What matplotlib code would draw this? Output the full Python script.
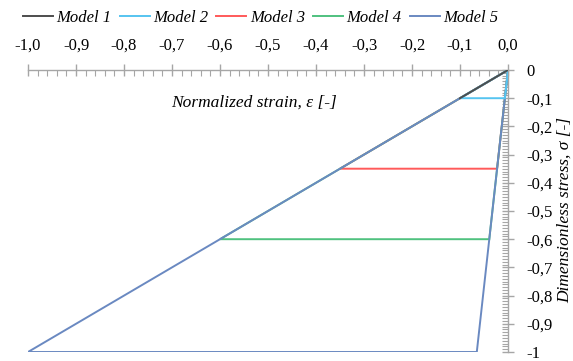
import matplotlib
matplotlib.use("Agg")
import matplotlib.pyplot as plt
from matplotlib.ticker import MultipleLocator, FixedLocator, FixedFormatter

plt.rcParams['font.family'] = 'serif'
plt.rcParams['font.serif'] = ['Liberation Serif', 'DejaVu Serif']

# Peak stress of each model (loading along the elastic diagonal)
models = ["Model 1", "Model 2", "Model 3", "Model 4", "Model 5"]
peaks = [-0.1, -0.1, -0.35, -0.6, -1.0]
# strain left after unloading, per unit of stress
unload_ratio = 0.065
colors = ["#4d4d4d", "#56c4f0", "#ff5a5a", "#4fc17f", "#6a89c1"]
zorders = [6, 5, 2, 3, 4]

x_ticks = [-1.0, -0.9, -0.8, -0.7, -0.6, -0.5, -0.4, -0.3, -0.2, -0.1, 0.0]
x_labels = ["-1,0", "-0,9", "-0,8", "-0,7", "-0,6", "-0,5", "-0,4", "-0,3", "-0,2", "-0,1", "0,0"]
y_ticks = [0.0, -0.1, -0.2, -0.3, -0.4, -0.5, -0.6, -0.7, -0.8, -0.9, -1.0]
y_labels = ["0", "-0,1", "-0,2", "-0,3", "-0,4", "-0,5", "-0,6", "-0,7", "-0,8", "-0,9", "-1"]

fig = plt.figure(figsize=(5.73, 3.61), dpi=100)
ax = fig.add_axes([28 / 573, 1 - 352 / 361, (508 - 28) / 573, (352 - 70) / 361])

for i, (name, p, c, z) in enumerate(zip(models, peaks, colors, zorders)):
    if i == 0:
        xs = [0.0, p]
        ys = [0.0, p]
    else:
        xs = [0.0, p, unload_ratio * p, 0.0]
        ys = [0.0, p, p, 0.0]
    ax.plot(xs, ys, color=c, lw=1.4, label=name, zorder=z, solid_joinstyle='miter')

ax.set_xlim(-1.0, 0.0)
ax.set_ylim(-1.0, 0.0)

for s in ["left", "bottom"]:
    ax.spines[s].set_visible(False)
for s in ["top", "right"]:
    ax.spines[s].set_color("#a6a6a6")
    ax.spines[s].set_linewidth(1.0)

ax.xaxis.set_ticks_position("top")
ax.yaxis.set_ticks_position("right")
ax.xaxis.set_major_locator(FixedLocator(x_ticks))
ax.xaxis.set_major_formatter(FixedFormatter(x_labels))
ax.yaxis.set_major_locator(FixedLocator(y_ticks))
ax.yaxis.set_major_formatter(FixedFormatter(y_labels))
ax.xaxis.set_minor_locator(MultipleLocator(0.02))
ax.yaxis.set_minor_locator(MultipleLocator(0.01))

ax.tick_params(which="major", direction="inout", length=8, width=1.0, color="#a6a6a6",
               labelsize=12)
ax.tick_params(which="minor", direction="in", length=4, width=0.8, color="#a6a6a6")
ax.tick_params(axis="x", which="major", pad=8)
ax.tick_params(axis="y", which="major", pad=9)

ax.text(0.47, 0.885, "Normalized strain, ε [-]", transform=ax.transAxes,
        ha="center", va="center", fontsize=12.5, style="italic")
fig.text(565 / 573, 1 - 210 / 361, "Dimensionless stress, σ [-]", rotation=90,
         ha="center", va="center", fontsize=12.5, style="italic")

fig.legend(loc="center", bbox_to_anchor=(0.455, 1 - 18 / 361), ncol=5, frameon=False,
           prop={"family": "serif", "style": "italic", "size": 12}, handlelength=1.8,
           handletextpad=0.2, columnspacing=0.5)

fig.savefig("out.png", dpi=100)
